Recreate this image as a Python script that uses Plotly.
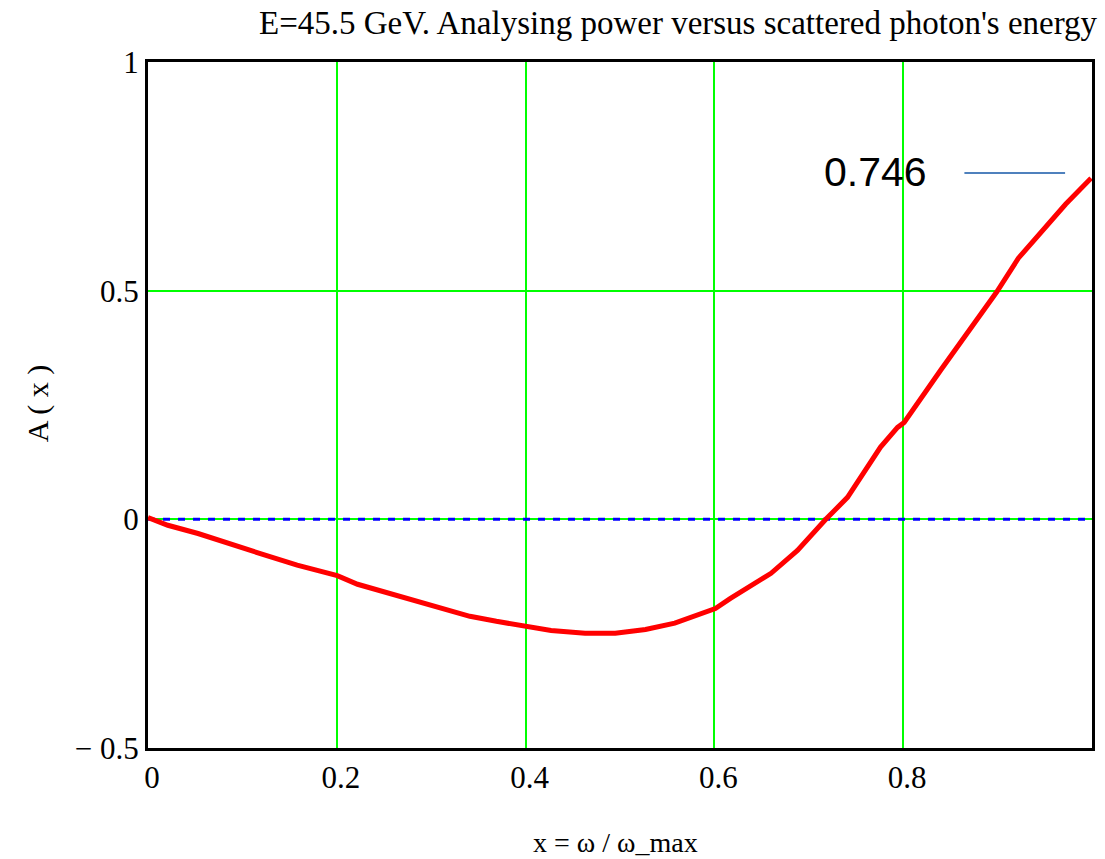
import plotly.graph_objects as go

# Analysing power curve A(x), x = omega/omega_max
x_vals = [0.0, 0.021, 0.053, 0.088, 0.119, 0.158, 0.2005, 0.222, 0.264, 0.299,
          0.341, 0.369, 0.401, 0.427, 0.463, 0.495, 0.527, 0.558, 0.601, 0.617,
          0.653, 0.660, 0.688, 0.718, 0.741, 0.759, 0.776, 0.794, 0.801, 0.840,
          0.869, 0.899, 0.922, 0.948, 0.972, 0.999]
a_vals = [0.004, -0.013, -0.031, -0.053, -0.075, -0.100, -0.123, -0.142, -0.166, -0.188,
          -0.212, -0.223, -0.234, -0.243, -0.249, -0.249, -0.241, -0.227, -0.195, -0.173,
          -0.127, -0.118, -0.068, 0.0, 0.048, 0.107, 0.158, 0.201, 0.212, 0.327,
          0.409, 0.497, 0.571, 0.634, 0.689, 0.746]

zero_x = [0.0, 1.0]
zero_y = [0.0, 0.0]

x_ticks = [0, 0.2, 0.4, 0.6, 0.8]
x_ticktext = ["0", "0.2", "0.4", "0.6", "0.8"]
y_ticks = [-0.5, 0, 0.5, 1]
y_ticktext = ["\u2212 0.5", "0", "0.5", "1"]

legend_label = "0.746"
title_text = "E=45.5 GeV. Analysing power versus scattered photon's energy"
x_title = "x = \u03c9 / \u03c9_max"
y_title = "A ( x )"

serif = "Liberation Serif, Times New Roman, serif"

fig = go.Figure()
fig.add_trace(go.Scatter(x=zero_x, y=zero_y, mode="lines",
                         line=dict(color="#0000ff", width=3, dash="7px,8px"),
                         showlegend=False, hoverinfo="skip"))
fig.add_trace(go.Scatter(x=x_vals, y=a_vals, mode="lines",
                         line=dict(color="#ff0000", width=5),
                         showlegend=False))

fig.update_layout(
    width=1105, height=859,
    margin=dict(l=148, r=10, t=62, b=111),
    paper_bgcolor="white", plot_bgcolor="white",
    showlegend=False,
    font=dict(family=serif, color="black", size=30),
)
fig.update_xaxes(range=[0, 1], tickvals=x_ticks, ticktext=x_ticktext,
                 showgrid=True, gridcolor="#00ff00", gridwidth=2,
                 zeroline=False, showline=True, linecolor="black", linewidth=3,
                 mirror=True, ticks="", ticklabelstandoff=0, ticklabelshift=4,
                 tickfont=dict(family=serif, size=31, color="black"))
fig.update_yaxes(range=[-0.5, 1], tickvals=y_ticks, ticktext=y_ticktext,
                 showgrid=True, gridcolor="#00ff00", gridwidth=2,
                 zeroline=False, showline=True, linecolor="black", linewidth=3,
                 mirror=True, ticks="", ticklabelstandoff=0,
                 tickfont=dict(family=serif, size=31, color="black"))

# title
fig.add_annotation(text=title_text, xref="paper", yref="paper",
                   x=1.008, y=(748 - 23) / 686, xanchor="right", yanchor="middle",
                   showarrow=False, font=dict(family=serif, size=33, color="black"))
# axis titles
fig.add_annotation(text=x_title, xref="paper", yref="paper",
                   x=(617 - 148) / 947, y=(748 - 842) / 686, xanchor="center", yanchor="middle",
                   showarrow=False, font=dict(family=serif, size=28, color="black"))
fig.add_annotation(text=y_title, xref="paper", yref="paper",
                   x=(38 - 148) / 947, y=(748 - 403) / 686, xanchor="center", yanchor="middle",
                   textangle=-90, showarrow=False,
                   font=dict(family=serif, size=30, color="black"))
# legend-like label
fig.add_annotation(text=legend_label, xref="paper", yref="paper",
                   x=(878 - 148) / 947, y=(748 - 172) / 686, xanchor="center", yanchor="middle",
                   showarrow=False, font=dict(family="Liberation Sans, Arial, sans-serif", size=41, color="black"))
fig.add_shape(type="line", xref="paper", yref="paper",
              x0=(967 - 148) / 947, x1=(1068 - 148) / 947,
              y0=(748 - 173) / 686, y1=(748 - 173) / 686,
              line=dict(color="#4F81BD", width=2))

fig.write_html("out.html")
